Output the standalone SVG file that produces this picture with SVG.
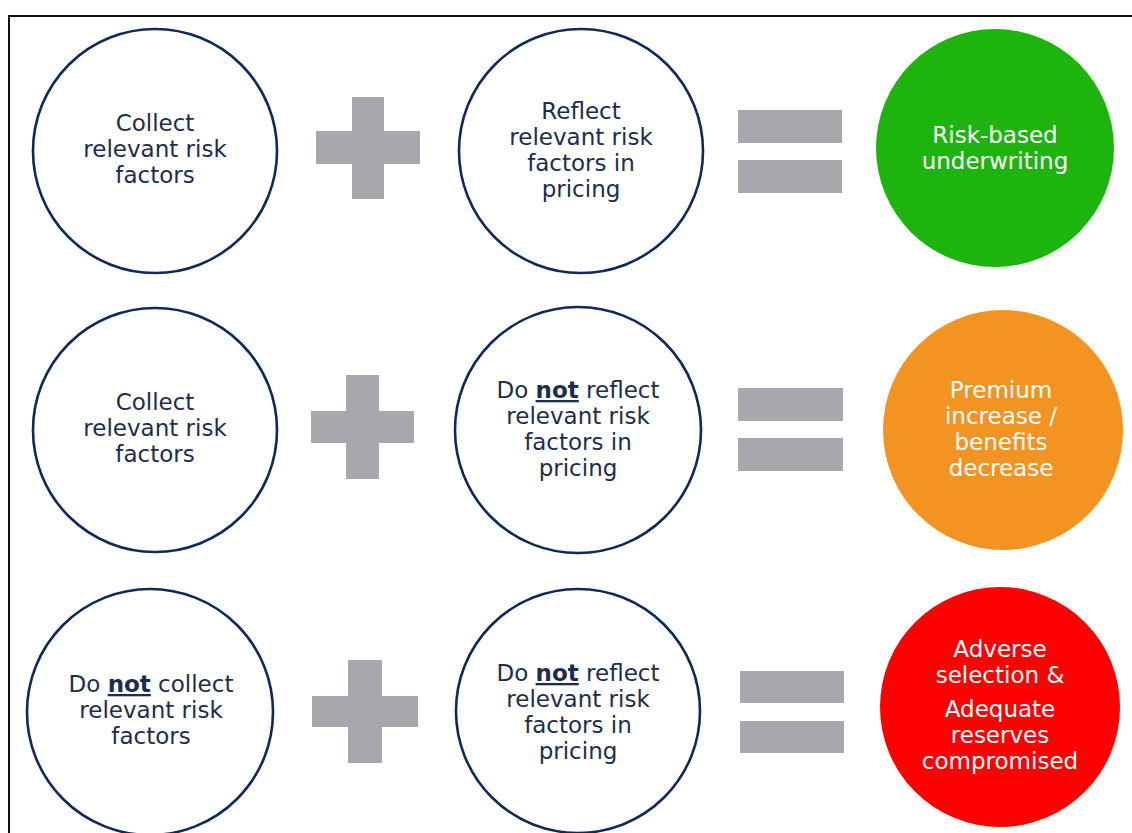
<svg xmlns="http://www.w3.org/2000/svg" width="1132" height="833" viewBox="0 0 1132 833">
<style>
.ring{fill:#ffffff;stroke:#0f2a5a;stroke-width:2.6}
.t{font-family:"DejaVu Sans","Verdana",sans-serif;font-size:23px;text-anchor:middle;fill:#1c2d4f}
.w{font-family:"DejaVu Sans","Verdana",sans-serif;font-size:23px;text-anchor:middle;fill:#ffffff}
.b{font-weight:bold;text-decoration:underline}
.op{fill:#a6a8ae}
</style>
<rect x="0" y="0" width="1132" height="833" fill="#ffffff"/>
<rect x="9" y="16" width="1135" height="830" fill="none" stroke="#111111" stroke-width="2"/>

<g id="r1-collect">
<circle class="ring" cx="155" cy="151" r="122"/>
<text class="t" x="155" y="131">Collect</text>
<text class="t" x="155" y="157">relevant risk</text>
<text class="t" x="155" y="183">factors</text>
</g>
<g id="r1-reflect">
<circle class="ring" cx="581" cy="151" r="122"/>
<text class="t" x="581" y="119">Reflect</text>
<text class="t" x="581" y="145">relevant risk</text>
<text class="t" x="581" y="171">factors in</text>
<text class="t" x="581" y="197">pricing</text>
</g>
<g id="r1-result">
<circle cx="995" cy="148" r="119" fill="#1eb40e"/>
<text class="w" x="995" y="143">Risk-based</text>
<text class="w" x="995" y="169">underwriting</text>
</g>

<g id="r2-collect">
<circle class="ring" cx="155" cy="430" r="122"/>
<text class="t" x="155" y="410">Collect</text>
<text class="t" x="155" y="436">relevant risk</text>
<text class="t" x="155" y="462">factors</text>
</g>
<g id="r2-reflect">
<circle class="ring" cx="578" cy="430" r="123"/>
<text class="t" x="578" y="398">Do <tspan class="b">not</tspan> reflect</text>
<text class="t" x="578" y="424">relevant risk</text>
<text class="t" x="578" y="450">factors in</text>
<text class="t" x="578" y="476">pricing</text>
</g>
<g id="r2-result">
<circle cx="1003" cy="430" r="120" fill="#f39321"/>
<text class="w" x="1001" y="398">Premium</text>
<text class="w" x="1001" y="424">increase /</text>
<text class="w" x="1001" y="450">benefits</text>
<text class="w" x="1001" y="476">decrease</text>
</g>

<g id="r3-collect">
<circle class="ring" cx="150" cy="712" r="123"/>
<text class="t" x="151" y="692">Do <tspan class="b">not</tspan> collect</text>
<text class="t" x="151" y="718">relevant risk</text>
<text class="t" x="151" y="744">factors</text>
</g>
<g id="r3-reflect">
<circle class="ring" cx="578" cy="711" r="122"/>
<text class="t" x="578" y="681">Do <tspan class="b">not</tspan> reflect</text>
<text class="t" x="578" y="707">relevant risk</text>
<text class="t" x="578" y="733">factors in</text>
<text class="t" x="578" y="759">pricing</text>
</g>
<g id="r3-result">
<circle cx="1000" cy="707" r="120" fill="#fe0000"/>
<text class="w" x="1000" y="657">Adverse</text>
<text class="w" x="1000" y="683">selection &amp;</text>
<text class="w" x="1000" y="717">Adequate</text>
<text class="w" x="1000" y="743">reserves</text>
<text class="w" x="1000" y="769">compromised</text>
</g>

<g id="operators">
<g id="r1-plus" class="op"><rect x="352" y="97" width="32" height="102"/><rect x="316" y="131" width="104" height="33"/></g>
<g id="r1-equals" class="op"><rect x="738" y="110" width="104" height="33"/><rect x="738" y="160" width="104" height="33"/></g>
<g id="r2-plus" class="op"><rect x="346" y="375" width="33" height="104"/><rect x="311" y="411" width="103" height="32"/></g>
<g id="r2-equals" class="op"><rect x="738" y="388" width="105" height="33"/><rect x="738" y="438" width="105" height="33"/></g>
<g id="r3-plus" class="op"><rect x="348" y="660" width="34" height="103"/><rect x="312" y="696" width="106" height="31"/></g>
<g id="r3-equals" class="op"><rect x="740" y="671" width="104" height="32"/><rect x="740" y="721" width="104" height="32"/></g>
</g>
<g id="connectors"/>
</svg>
